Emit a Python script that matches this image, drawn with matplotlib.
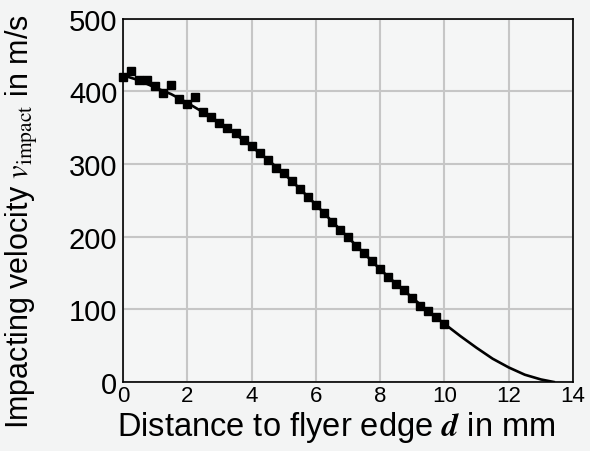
import matplotlib.pyplot as plt

plt.rcParams['font.family'] = ['Liberation Sans', 'DejaVu Sans']
plt.rcParams['mathtext.fontset'] = 'stix'

# measured points (distance in mm, velocity in m/s)
d_meas = [0.0, 0.25, 0.5, 0.75, 1.0, 1.25, 1.5, 1.75, 2.0, 2.25,
          2.5, 2.75, 3.0, 3.25, 3.5, 3.75, 4.0, 4.25, 4.5, 4.75,
          5.0, 5.25, 5.5, 5.75, 6.0, 6.25, 6.5, 6.75, 7.0, 7.25,
          7.5, 7.75, 8.0, 8.25, 8.5, 8.75, 9.0, 9.25, 9.5, 9.75, 10.0]
v_meas = [420, 428, 416, 415, 407, 398, 408, 389, 383, 392,
          372, 364, 357, 349, 342, 333, 324, 315, 305, 295,
          287, 277, 266, 254, 243, 232, 220, 209, 199, 187,
          177, 167, 155, 145, 135, 126, 115, 105, 97, 89, 80]

# fitted curve
d_fit = [0.0, 0.5, 1.0, 1.5, 2.0, 2.5, 3.0, 3.5, 4.0, 4.5, 5.0,
         5.5, 6.0, 6.5, 7.0, 7.5, 8.0, 8.5, 9.0, 9.5, 10.0,
         10.5, 11.0, 11.5, 12.0, 12.5, 13.0, 13.4]
v_fit = [422, 415, 405, 396, 384, 371, 357, 341, 324, 306, 287,
         266, 244, 221, 199, 177, 155, 135, 116, 97, 80,
         63, 47, 32, 20, 10, 3.5, 0]

bg = '#f3f4f4'
fig = plt.figure(figsize=(5.9, 4.52), dpi=100, facecolor=bg)
ax = fig.add_axes([0.2085, 0.1527, 0.7627, 0.804])
ax.set_facecolor('#f5f6f6')

ax.plot(d_fit, v_fit, color='black', lw=1.9, zorder=3)
ax.plot(d_meas, v_meas, 's', color='black', ms=6.3, zorder=4, clip_on=False)

ax.set_xlim(0, 14)
ax.set_ylim(0, 500)
ax.set_xticks(range(0, 15, 2))
ax.set_yticks(range(0, 501, 100))
ax.grid(True, color='#c6c6c6', lw=1.5)
ax.set_axisbelow(True)
ax.tick_params(axis='x', length=0, pad=2, labelsize=16)
ax.tick_params(axis='y', length=0, pad=4, labelsize=21)
for s in ax.spines.values():
    s.set_linewidth(1.2)

ax.set_xlabel(r'Distance to flyer edge $\boldsymbol{d}$ in mm', fontsize=23.5)
ax.set_ylabel(r'Impacting velocity $v_{\mathrm{impact}}$ in m/s', fontsize=22)
ax.xaxis.set_label_coords(0.473, -0.075, transform=ax.transAxes)
ax.yaxis.set_label_coords(-0.185, 0.445, transform=ax.transAxes)
ax.xaxis.label.set_va('top')

fig.savefig('out.png', dpi=100, facecolor=bg)
